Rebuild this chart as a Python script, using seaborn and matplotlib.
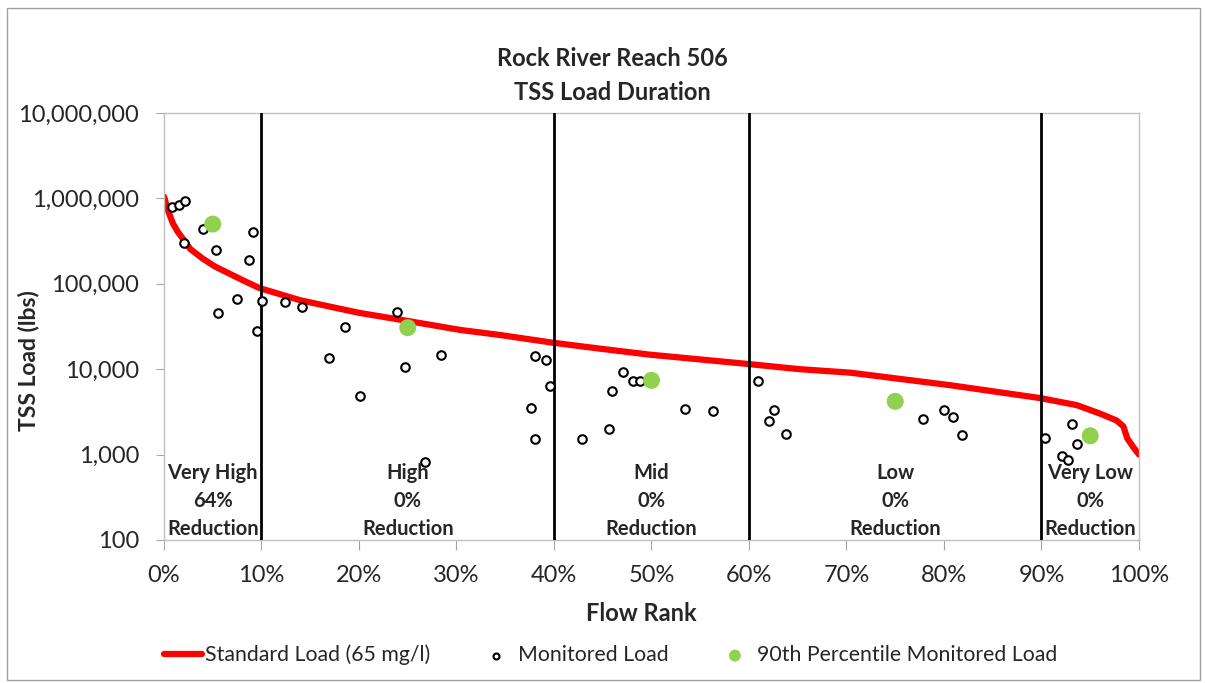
import matplotlib
matplotlib.use("Agg")
import matplotlib.pyplot as plt
import matplotlib.ticker as mticker
from matplotlib.patches import Rectangle
import seaborn as sns
import pandas as pd

# standard load duration curve (flow rank, lbs)
curve_rank = [0.000, 0.004, 0.009, 0.014, 0.020, 0.027, 0.040, 0.052, 0.065, 0.083,
              0.098, 0.140, 0.200, 0.242, 0.304, 0.345, 0.399, 0.447, 0.498, 0.599,
              0.652, 0.704, 0.806, 0.898, 0.936, 0.960, 0.977, 0.984, 0.988, 0.994,
              1.000]
curve_load = [1050000, 725000, 513000, 407000, 330000, 255000, 196000, 160000, 135000, 107000,
              89000, 64000, 45700, 38000, 28800, 25100, 20400, 17400, 14800, 11500,
              10000, 9100, 6500, 4600, 3800, 3020, 2510, 2140, 1550, 1230,
              1000]

# monitored loads
mon_rank = [0.008, 0.015, 0.022, 0.040, 0.021, 0.053, 0.091, 0.087, 0.075, 0.055,
            0.101, 0.095, 0.124, 0.142, 0.186, 0.169, 0.239, 0.247, 0.284, 0.201,
            0.268, 0.381, 0.392, 0.396, 0.376, 0.381, 0.429, 0.456, 0.460, 0.471,
            0.481, 0.488, 0.534, 0.563, 0.609, 0.626, 0.621, 0.638, 0.779, 0.800,
            0.809, 0.819, 0.904, 0.931, 0.936, 0.921, 0.927]
mon_load = [787000, 830000, 925000, 436000, 298000, 249000, 409000, 190000, 66000, 46000,
            63000, 28000, 62000, 53000, 31000, 13600, 47000, 10500, 14700, 4900,
            826, 14300, 12900, 6400, 3500, 1520, 1520, 2000, 5560, 9300,
            7280, 7280, 3460, 3240, 7280, 3300, 2460, 1740, 2580, 3300,
            2770, 1680, 1570, 2260, 1320, 955, 865]

# 90th percentile monitored load per flow zone
p90_rank = [0.05, 0.25, 0.50, 0.75, 0.95]
p90_load = [500000, 30600, 7400, 4200, 1660]

zone_breaks = [0.10, 0.40, 0.60, 0.90]
zone_mid = [0.05, 0.25, 0.50, 0.75, 0.95]
zone_labels = ["Very High\n64%\nReduction", "High\n0%\nReduction", "Mid\n0%\nReduction",
               "Low\n0%\nReduction", "Very Low\n0%\nReduction"]

curve = pd.DataFrame({"rank": curve_rank, "load": curve_load})
mon = pd.DataFrame({"rank": mon_rank, "load": mon_load})
p90 = pd.DataFrame({"rank": p90_rank, "load": p90_load})

sns.set_style("white")
plt.rcParams["font.family"] = ["Lato", "DejaVu Sans"]

fig = plt.figure(figsize=(12.05, 6.83), dpi=100)
ax = fig.add_axes([0.1361, 0.2094, 0.8091, 0.6252])

sns.lineplot(data=curve, x="rank", y="load", color="#ff0000", lw=4.5, ax=ax,
             label="Standard Load (65 mg/l)")
sns.scatterplot(data=mon, x="rank", y="load", ax=ax, s=38, facecolor="white",
                edgecolor="black", linewidth=1.5, zorder=4, label="Monitored Load")
sns.scatterplot(data=p90, x="rank", y="load", ax=ax, s=150, color="#92d050",
                edgecolor="none", zorder=5, label="90th Percentile Monitored Load")

for b in zone_breaks:
    ax.axvline(b, color="black", lw=2, zorder=3)

for xm, txt in zip(zone_mid, zone_labels):
    ax.text(xm, 103, txt, ha="center", va="bottom", fontsize=14.5, fontweight="bold",
            linespacing=1.5, zorder=6)

ax.set_yscale("log")
ax.set_ylim(100, 1e7)
ax.set_xlim(0, 1)
ax.yaxis.set_major_locator(mticker.LogLocator(base=10, numticks=10))
ax.yaxis.set_minor_locator(mticker.NullLocator())
ax.yaxis.set_major_formatter(mticker.FuncFormatter(lambda v, p: f"{v:,.0f}"))
ax.set_xticks([i / 10 for i in range(11)])
ax.xaxis.set_major_formatter(mticker.PercentFormatter(1.0, decimals=0))
ax.tick_params(axis="both", labelsize=17, color="#a6a6a6", direction="out",
               left=True, bottom=True)
ax.tick_params(axis="y", length=6, pad=12)
ax.tick_params(axis="x", length=7, pad=11)

for s in ax.spines.values():
    s.set_color("#bfbfbf")
    s.set_linewidth(1)

ax.set_xlabel("Flow Rank", fontsize=17, fontweight="bold")
ax.set_ylabel("TSS Load (lbs)", fontsize=16.5, fontweight="bold")
ax.xaxis.set_label_coords(0.490, -0.145)
ax.yaxis.set_label_coords(-0.128, 0.42)
fig.text(0.508, 0.8895, "Rock River Reach 506\nTSS Load Duration", ha="center",
         va="center", fontsize=17, fontweight="bold", linespacing=1.55)

ax.legend(loc="center", bbox_to_anchor=(0.458, -0.269), ncol=3, frameon=False,
          fontsize=15.3, handlelength=1.8, columnspacing=2.2, handletextpad=0.15,
          markerscale=0.7)

fig.patches.append(Rectangle((0.006, 0.004), 0.99, 0.985, transform=fig.transFigure,
                             fill=False, edgecolor="#a0a0a0", lw=1))

fig.savefig("out.png", dpi=100)
